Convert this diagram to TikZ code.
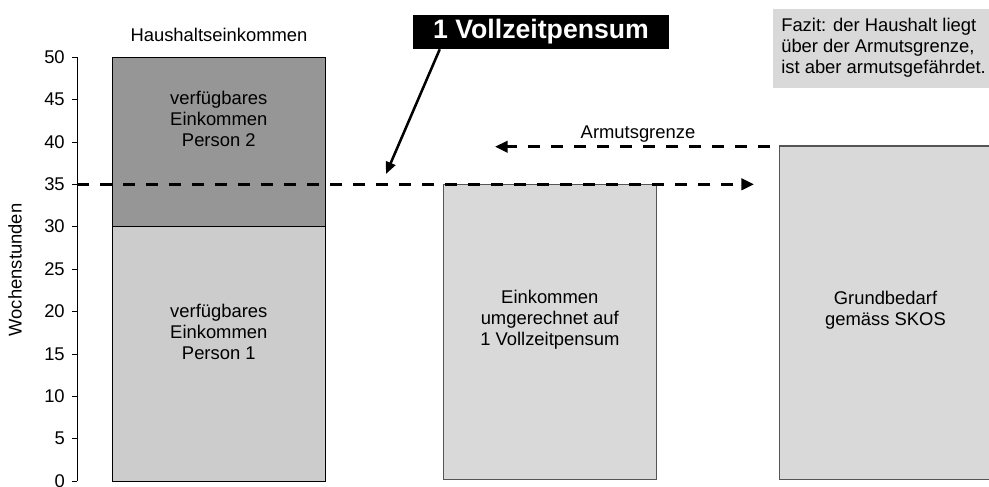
\documentclass[tikz,border=0pt]{standalone}
\usepackage{fontspec}
\setmainfont{Liberation Sans}
\usetikzlibrary{arrows.meta,fit}
\definecolor{persontwo}{RGB}{150,150,150}
\definecolor{personone}{RGB}{204,204,204}
\definecolor{barfill}{RGB}{217,217,217}
\definecolor{barline}{RGB}{85,85,85}
\begin{document}
\begin{tikzpicture}[x=0.75pt, y=-0.75pt,
    every node/.style ={font=\fontsize{13.8}{15.6}\selectfont},
    bar/.style ={draw, inner sep=0pt},
    bartext/.style ={align=center, inner sep=0pt},
    hourline/.style ={line width=2.25pt, dash pattern=on 9pt off 8.25pt,
      -{Triangle[length=9.5pt, width=8.5pt]}},
    callout/.style ={line width=1.9pt, -{Triangle[length=9pt, width=7.5pt]}}]
   \useasboundingbox (0,0) rectangle (989,486);
   % axis
   \draw (77,57) -- (77,481);
   \foreach \v in {0,5,...,50} {
     \draw (72,{481-8.48*\v}) -- (77,{481-8.48*\v});
     \node[anchor=east, inner sep=0pt] (tick\v) at (65,{481-8.48*\v}) {\v};
   }
   \node[rotate=90] (yaxis) at (15,270) {Wochenstunden};
   \node (hh) at (219,35) {Haushaltseinkommen};
   % bars
   \node[bar, fill=personone, fit={(112.3,226.5) (325.3,481)}] (p1) {};
   \node[bar, fill=persontwo, fit={(112.3,57) (325.3,226.5)}] (p2) {};
   \node[bar, draw=barline, line width=1.2pt, fill=barfill, fit={(443.3,184.3) (656.3,479.5)}] (vz) {};
   \node[bar, draw=barline, line width=1.2pt, fill=barfill, fit={(779.3,146) (996,479.5)}] (skos) {};
   \node[bartext] (p2text) at (218.8,119) {verfügbares\\Einkommen\\Person 2};
   \node[bartext] (p1text) at (218.8,332) {verfügbares\\Einkommen\\Person 1};
   \node[bartext] (vztext) at (549.8,320) {Einkommen\\umgerechnet auf\\1 Vollzeitpensum};
   \node[bartext] (skostext) at (885.5,310) {Grundbedarf\\gemäss SKOS};
   % fazit
   \node[fill=barfill, inner sep=0pt, fit={(773,9) (995,88)}] (fazitbox) {};
   \node[anchor=west, align=left, inner sep=0pt] (fazit) at (781,48)
     {Fazit: der Haushalt liegt\\über der Armutsgrenze,\\ist aber armutsgefährdet.};
   % lines
   \coordinate (h35) at (77,184.3);
   \coordinate (h35end) at (754,184.3);
   \coordinate (agstart) at (770,146.7);
   \coordinate (agend) at (495,146.7);
   \draw[hourline] (h35) -- (h35end);
   \draw[hourline] (agstart) -- (agend);
   \node (ag) at (638,134) {Armutsgrenze};
   \node[fill=black, text=white, inner sep=0pt, minimum width=192.5pt, minimum height=25.5pt,
     font=\bfseries\fontsize{20}{22}\selectfont] (vzbox) at (541,32) {1 Vollzeitpensum};
   \coordinate (vztip) at (386,174);
   \draw[callout] ([xshift=20.5pt]vzbox.south west) -- (vztip);
\end{tikzpicture}
\end{document}
